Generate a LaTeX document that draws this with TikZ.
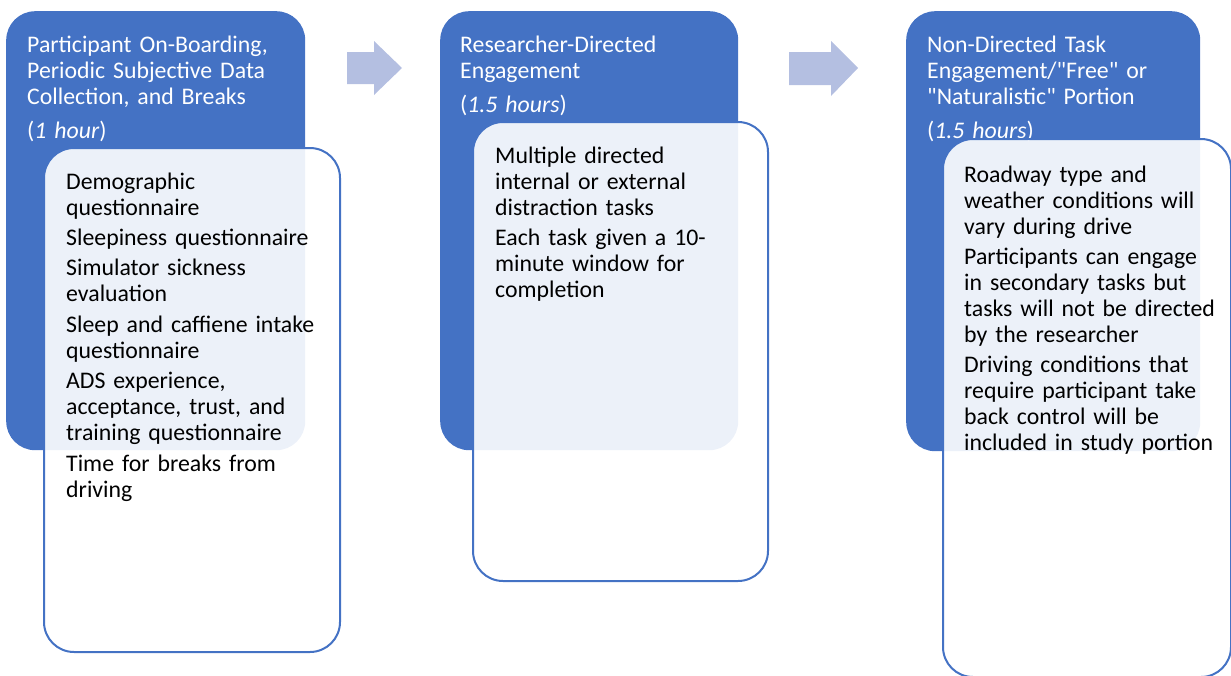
\documentclass[tikz,border=0pt]{standalone}
\usepackage{fontspec}
\setmainfont{Carlito}
\usetikzlibrary{calc}
\definecolor{stageblue}{HTML}{4472C4}
\definecolor{arrowgrey}{HTML}{B4BFE1}
\newcommand*{\BodyFont}{\fontsize{23.8}{26}\selectfont}
\tikzset{
  stage/.style={fill=stageblue, draw=none, rounded corners=29pt,
    anchor=north west, inner sep=0pt},
  detail/.style={fill=white, fill opacity=0.9, draw=stageblue, line width=2pt,
    rounded corners=30pt, anchor=north west, inner sep=0pt},
  title/.style={text=white, anchor=base west, inner sep=0pt, align=left,
    text width=290pt, font=\BodyFont},
  items/.style={text=black, anchor=base west, inner sep=0pt, align=left,
    text width=290pt, font=\BodyFont},
  flow/.style={fill=arrowgrey, draw=none}
}
\begin{document}
\begin{tikzpicture}[x=1pt,y=-1pt]
    \clip (0,0) rectangle (1231,675);
    % stage 1
    \node [stage, minimum width=299pt, minimum height=439pt] (stageA) at (6,11) {};
    \node [title] (titleA) at (27,52) {Participant On-Boarding,\\
      Periodic Subjective Data\\ Collection, and Breaks\\[8.5pt] (\textit{1 hour})};
    \node [detail, minimum width=296pt, minimum height=504pt] (detailA) at (43,147) {};
    \node [items] (itemsA) at (66,189) {Demographic\\ questionnaire\\[4.4pt]
      Sleepiness questionnaire\\[4.4pt]
      Simulator sickness\\ evaluation\\[4.4pt]
      Sleep and caffiene intake\\ questionnaire\\[4.4pt]
      ADS experience,\\ acceptance, trust, and\\ training questionnaire\\[4.4pt]
      Time for breaks from\\ driving};

    % stage 2
    \node [stage, minimum width=298pt, minimum height=439pt] (stageB) at (440,11) {};
    \node [title] (titleB) at (460,52) {Researcher-Directed\\
      Engagement\\[8.5pt] (\textit{1.5 hours})};
    \node [detail, minimum width=295pt, minimum height=459pt] (detailB) at (472,121) {};
    \node [items] (itemsB) at (495,163) {Multiple directed\\ internal or external\\
      distraction tasks\\[4.4pt]
      Each task given a 10-\\ minute window for\\ completion};

    % stage 3
    \node [stage, minimum width=294pt, minimum height=440pt] (stageC) at (906,11) {};
    \node [title] (titleC) at (927,52) {Non-Directed Task\\
      Engagement/\textquotedbl Free\textquotedbl{} or\\
      \textquotedbl Naturalistic\textquotedbl{} Portion\\[8.5pt] (\textit{1.5 hours})};
    \node [detail, minimum width=288pt, minimum height=538pt] (detailC) at (942,138) {};
    \node [items] (itemsC) at (964,182) {Roadway type and\\
      weather conditions will\\ vary during drive\\[4.4pt]
      Participants can engage\\ in secondary tasks but\\
      tasks will not be directed\\ by the researcher\\[4.4pt]
      Driving conditions that\\ require participant take\\
      back control will be\\ included in study portion};

    % arrows between stages
    \fill [flow] (347,52) -- (374,52) -- (374,41) -- (402,68)
      -- (374,95) -- (374,84) -- (347,84) -- cycle;
    \fill [flow] (789,52) -- (831,52) -- (831,41) -- (858,68)
      -- (831,96) -- (831,85) -- (789,85) -- cycle;
\end{tikzpicture}
\end{document}
